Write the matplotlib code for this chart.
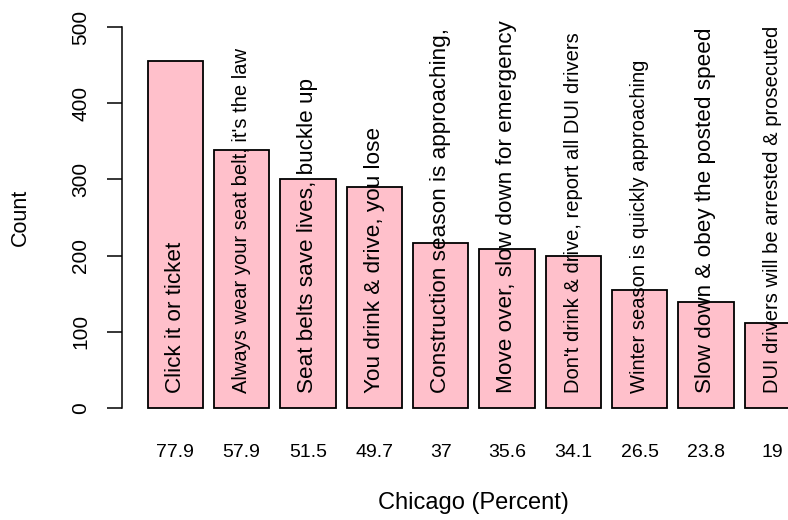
import matplotlib
matplotlib.use("Agg")
import matplotlib.pyplot as plt

plt.rcParams['font.family'] = ['Liberation Sans', 'DejaVu Sans']

slogans = [
    "Click it or ticket",
    "Always wear your seat belt, it's the law",
    "Seat belts save lives, buckle up",
    "You drink & drive, you lose",
    "Construction season is approaching,",
    "Move over, slow down for emergency",
    "Don't drink & drive, report all DUI drivers",
    "Winter season is quickly approaching",
    "Slow down & obey the posted speed",
    "DUI drivers will be arrested & prosecuted",
]
counts = [455, 338, 301, 290, 216, 208, 199, 155, 139, 111]
percent_labels = ["77.9", "57.9", "51.5", "49.7", "37", "35.6", "34.1", "26.5", "23.8", "19"]
y_ticks = [0, 100, 200, 300, 400, 500]
x_title = "Chicago (Percent)"
y_title = "Count"

W, H = 788, 520
fig = plt.figure(figsize=(W / 100, H / 100), dpi=100)
left_px, right_px, top_px, bot_px = 121.6, 826.0, 11.8, 423.2
ax = fig.add_axes([left_px / W, 1 - bot_px / H, (right_px - left_px) / W, (bot_px - top_px) / H])

n = len(counts)
centers = [0.7 + 1.2 * i for i in range(n)]
ax.bar(centers, counts, width=1.0, color='#FFC0CB', edgecolor='black', linewidth=1.3)

ax.set_xlim(-0.272, 12.472)
ax.set_ylim(-20, 520)

for s in ['top', 'right', 'bottom']:
    ax.spines[s].set_visible(False)
ax.spines['left'].set_bounds(0, 500)
ax.spines['left'].set_linewidth(1.1)

ax.set_yticks(y_ticks)
ax.set_yticklabels([str(v) for v in y_ticks], rotation=90, va='center', fontsize=15)
ax.tick_params(axis='y', length=10.5, width=1.1, pad=12)

ax.set_xticks(centers)
ax.set_xticklabels(percent_labels, fontsize=14)
ax.tick_params(axis='x', length=0, pad=15)

for xc, lab in zip(centers, slogans):
    fs = 14.5 if len(lab) >= 36 else 16.2
    ax.text(xc, 19, lab, rotation=90, ha='left', va='center', rotation_mode='anchor',
            fontsize=fs, clip_on=False)

fig.text(473.8 / W, 1 - 503 / H, x_title, ha='center', va='center', fontsize=17)
fig.text(20 / W, 1 - 217.5 / H, y_title, ha='center', va='center', rotation=90, fontsize=15.5)

fig.savefig("out.png", dpi=100)
